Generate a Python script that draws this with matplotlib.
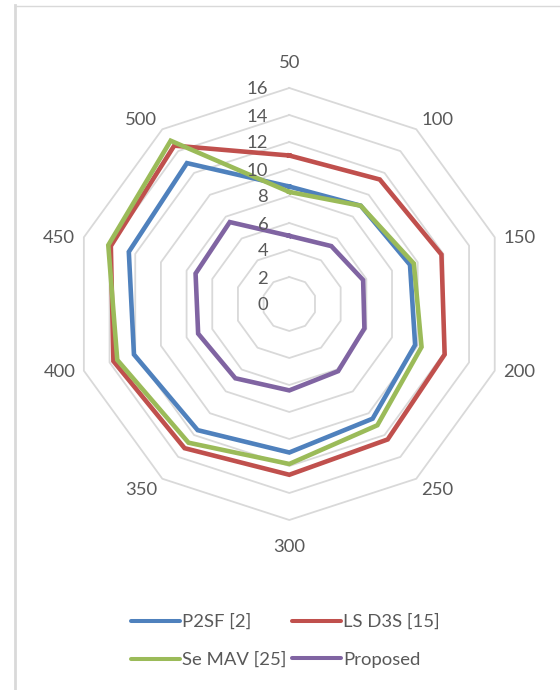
import numpy as np
import matplotlib
matplotlib.use("Agg")
import matplotlib.pyplot as plt
from matplotlib.lines import Line2D

plt.rcParams['font.family'] = ['Lato', 'DejaVu Sans']

categories = ["50", "100", "150", "200", "250", "300", "350", "400", "450", "500"]
p2sf = [8.7, 9.0, 9.4, 9.8, 10.5, 11.0, 11.55, 12.1, 12.5, 12.9]
lsd3s = [11.0, 11.4, 11.85, 12.1, 12.4, 12.65, 13.2, 13.7, 13.9, 14.5]
semav = [8.3, 9.0, 9.7, 10.3, 11.1, 11.85, 12.7, 13.4, 14.1, 14.95]
proposed = [5.05, 5.3, 5.75, 5.85, 6.15, 6.4, 6.8, 7.1, 7.3, 7.5]
series_names = ["P2SF [2]", "LS D3S [15]", "Se MAV [25]", "Proposed"]
ring_values = [0, 2, 4, 6, 8, 10, 12, 14, 16]

colors = ["#4F81BD", "#C0504D", "#9BBB59", "#8064A2"]
text_color = "#595959"
grid_color = "#D9D9D9"
fs = 13.3

W, H = 560, 690
fig = plt.figure(figsize=(W / 100, H / 100), dpi=100)
fig.patch.set_facecolor("white")

cx, cy, R = 289.3, 304, 216
ax = fig.add_axes([(cx - R) / W, (H - cy - R) / H, 2 * R / W, 2 * R / H], projection="polar")
ax.set_theta_zero_location("N")
ax.set_theta_direction(-1)
ax.set_ylim(0, 16)
ax.set_xticks([])
ax.set_yticks([])
ax.grid(False)
ax.spines["polar"].set_visible(False)
ax.patch.set_alpha(0)

n = len(categories)
theta = np.arange(n) * 2 * np.pi / n
theta_c = np.append(theta, theta[0])

# ring gridlines
for rv in ring_values[1:]:
    ax.plot(theta_c, [rv] * (n + 1), color=grid_color, lw=1.3, zorder=1, clip_on=False)

# data series
all_series = [p2sf, lsd3s, semav, proposed]
for vals, col in zip(all_series, colors):
    v = np.append(vals, vals[0])
    ax.plot(theta_c, v, color=col, lw=3.3, solid_joinstyle="miter", zorder=3, clip_on=False)

# category labels
for t, lab in zip(theta, categories):
    ang = np.pi / 2 - t
    c, s = np.cos(ang), np.sin(ang)
    dx = 25 * np.sign(c) * abs(c) ** (1 / 3)
    dy = 26 * np.sign(s) * abs(s) ** 4.5
    ax.annotate(lab, xy=(t, 16), xytext=(dx, dy - 1), textcoords="offset pixels",
                ha="center", va="center", fontsize=fs, color=text_color,
                annotation_clip=False)

# ring value labels
for rv in ring_values:
    ax.annotate(str(rv), xy=(0, rv), xytext=(-21, -1.5), textcoords="offset pixels",
                ha="right", va="center", fontsize=fs, color=text_color,
                annotation_clip=False)

# legend (column-major order to get row layout)
handles = [Line2D([], [], color=c, lw=2.9, solid_capstyle="round") for c in colors]
order = [0, 2, 1, 3]
leg = fig.legend([handles[i] for i in order], [series_names[i] for i in order],
                 loc="center", bbox_to_anchor=(285.5 / W, 1 - 641 / H), ncol=2,
                 frameon=False, handlelength=2.65, handletextpad=0.1,
                 columnspacing=0.3, labelspacing=1.18, fontsize=fs)
for txt in leg.get_texts():
    txt.set_color(text_color)

# chart-area border (left and top)
fig.add_artist(Line2D([15.3 / W, 15.3 / W], [0, 1 - 5 / H], transform=fig.transFigure,
                      color=grid_color, lw=2.0))
fig.add_artist(Line2D([14.5 / W, 1], [1 - 5.6 / H, 1 - 5.6 / H], transform=fig.transFigure,
                      color=grid_color, lw=1.0))

fig.savefig("out.png", dpi=100)
